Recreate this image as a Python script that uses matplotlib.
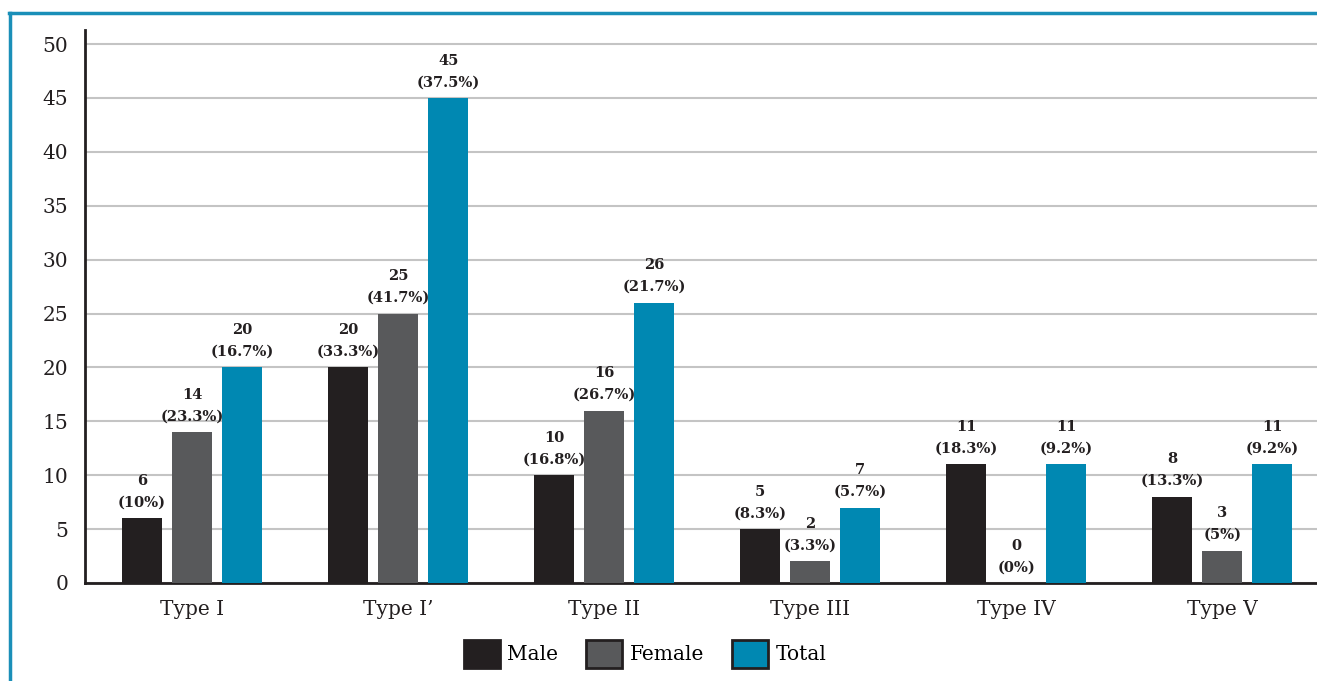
import matplotlib.pyplot as plt
import numpy as np
from matplotlib.patches import Patch

categories = ["Type I", "Type I\u2019", "Type II", "Type III", "Type IV", "Type V"]
male = [6, 20, 10, 5, 11, 8]
female = [14, 25, 16, 2, 0, 3]
total = [20, 45, 26, 7, 11, 11]
male_pct = ["10%", "33.3%", "16.8%", "8.3%", "18.3%", "13.3%"]
female_pct = ["23.3%", "41.7%", "26.7%", "3.3%", "0%", "5%"]
total_pct = ["16.7%", "37.5%", "21.7%", "5.7%", "9.2%", "9.2%"]

colors = ["#231f20", "#58595b", "#0088b2"]
plt.rcParams["font.family"] = ["DejaVu Serif"]

fig = plt.figure(figsize=(13.17, 6.81), dpi=100)
ax = fig.add_axes([85 / 1317, 1 - 583 / 681, 1 - 85 / 1317, 553 / 681])

x = np.arange(len(categories))
w = 0.194
off = 0.243
series = [(male, male_pct, "Male"), (female, female_pct, "Female"), (total, total_pct, "Total")]
for i, (vals, pcts, name) in enumerate(series):
    pos = x + (i - 1) * off
    ax.bar(pos, vals, width=w, color=colors[i], zorder=3, label=name)
    for p, v, t in zip(pos, vals, pcts):
        ax.text(p, v + 0.8, f"{v}\n({t})", ha="center", va="bottom", fontsize=10.5,
                fontweight="bold", color="#231f20", linespacing=1.7)

ax.set_xlim(-0.52, 5.46)
ax.set_ylim(0, 51.3)
ax.set_yticks(range(0, 51, 5))
ax.set_xticks(x)
ax.set_xticklabels(categories)
ax.tick_params(axis="both", length=0, labelsize=14.5, colors="#231f20")
ax.tick_params(axis="y", pad=12)
ax.tick_params(axis="x", pad=12)
ax.grid(axis="y", color="#c4c4c4", linewidth=1.5, zorder=0)
for s in ["top", "right"]:
    ax.spines[s].set_visible(False)
ax.spines["left"].set_linewidth(2)
ax.spines["bottom"].set_linewidth(2)
ax.spines["left"].set_color("#231f20")
ax.spines["bottom"].set_color("#231f20")

handles = [Patch(facecolor=c, edgecolor="#231f20", linewidth=2) for c in colors]
fig.legend(handles, ["Male", "Female", "Total"], loc="center", bbox_to_anchor=(645 / 1317, 1 - 654 / 681),
           ncol=3, frameon=False, fontsize=14.5, handlelength=1.8, handleheight=1.8,
           handletextpad=0.35, columnspacing=1.4)

# teal frame on top and left
fig.add_artist(plt.Line2D([9 / 1317, 1], [1 - 13 / 681, 1 - 13 / 681], color="#1a8fb8", linewidth=2.5,
                          transform=fig.transFigure))
fig.add_artist(plt.Line2D([10 / 1317, 10 / 1317], [0, 1 - 13 / 681], color="#1a8fb8", linewidth=2.5,
                          transform=fig.transFigure))

plt.savefig("out.png", dpi=100)
